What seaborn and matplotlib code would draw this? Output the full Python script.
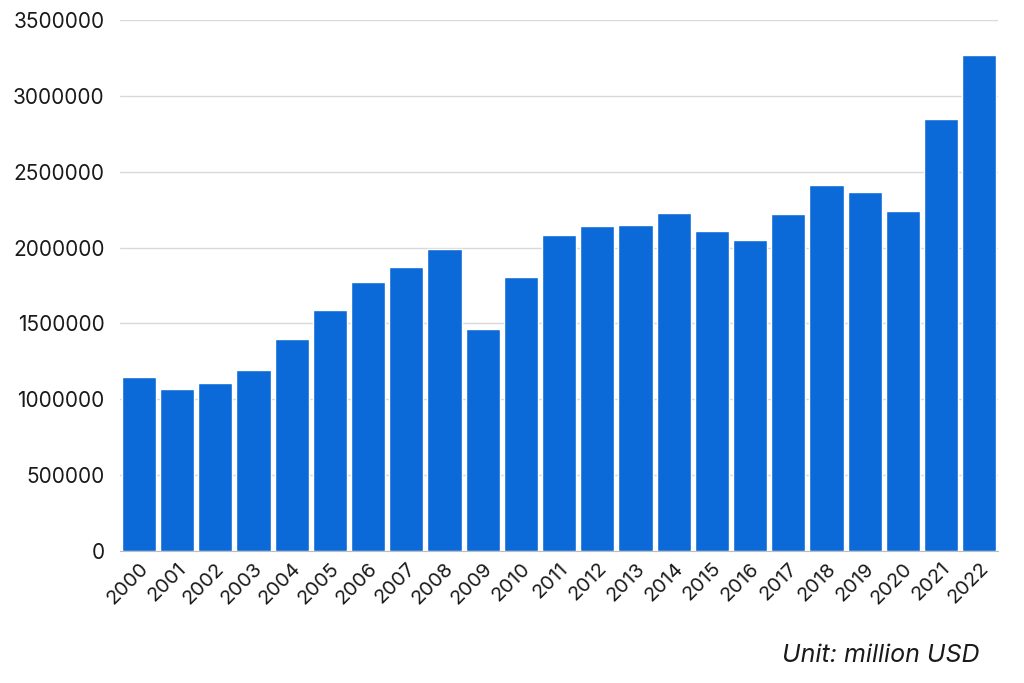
import matplotlib
matplotlib.use("Agg")
import matplotlib.pyplot as plt
import seaborn as sns
import pandas as pd

# values (million USD)
years = [str(y) for y in range(2000, 2023)]
values = [1150000, 1070000, 1108000, 1195000, 1400000, 1590000, 1770000, 1872000,
          1993000, 1465000, 1806000, 2085000, 2145000, 2150000, 2230000, 2110000,
          2050000, 2222000, 2415000, 2366000, 2238000, 2847000, 3270000]
yticks = [0, 500000, 1000000, 1500000, 2000000, 2500000, 3000000, 3500000]

df = pd.DataFrame({"Year": years, "Value": values})

sns.set_style("white")
plt.rcParams["font.family"] = ["Inter", "DejaVu Sans"]

fig = plt.figure(figsize=(10.24, 6.83), dpi=100)
ax = fig.add_axes([0.117, 0.193, 0.858, 0.778])

sns.barplot(data=df, x="Year", y="Value", color="#0c6ad8", saturation=1,
            width=0.9, ax=ax, zorder=3)

ax.set_ylim(0, 3500000)
ax.set_yticks(yticks)
ax.set_yticklabels([str(t) for t in yticks], fontsize=15, color="#1a1a1a")
ax.grid(axis="y", color="#d9d9d9", linewidth=1, zorder=0)
ax.set_xlim(-0.5, len(years) - 0.5)
ax.tick_params(axis="x", labelrotation=45, labelsize=14.5, length=0, pad=6, colors="#1a1a1a")
ax.tick_params(axis="y", length=0, pad=11)
for lbl in ax.get_xticklabels():
    lbl.set_ha("right")
    lbl.set_rotation_mode("anchor")
for s in ["top", "right", "left"]:
    ax.spines[s].set_visible(False)
ax.spines["bottom"].set_color("#bdbdbd")
ax.set_xlabel("")
ax.set_ylabel("")

fig.text(0.957, 0.04, "Unit: million USD", ha="right", va="center",
         fontsize=18, style="italic", color="#1a1a1a")

fig.savefig("out.png", dpi=100)
